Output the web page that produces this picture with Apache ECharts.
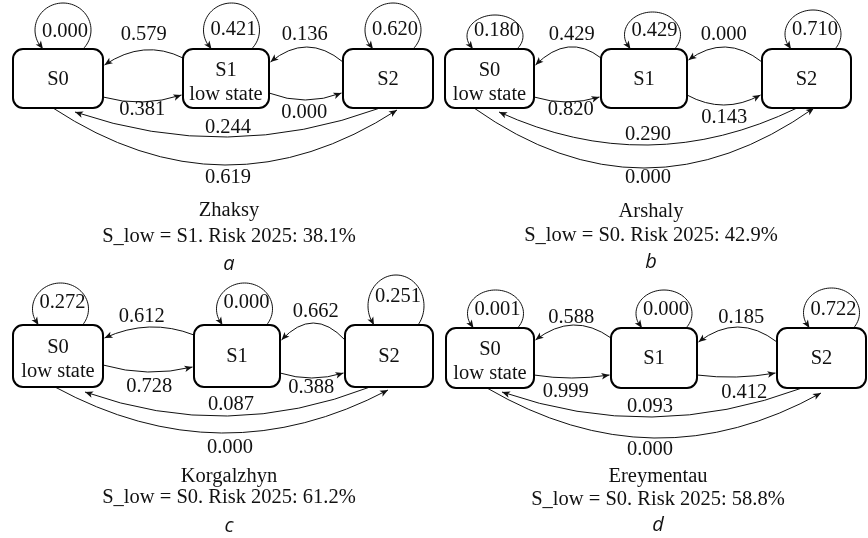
<!DOCTYPE html>
<html>
<head>
<meta charset="utf-8">
<script src="https://cdn.jsdelivr.net/npm/echarts@6/dist/echarts.min.js"></script>
<style>
  html, body { margin: 0; padding: 0; background: #fff; }
  #chart { width: 868px; height: 538px; }
</style>
</head>
<body>
<div id="chart"></div>
<script>
// Districts, their low-water state and the 2025 risk figure
const regions = ['Zhaksy', 'Arshaly', 'Korgalzhyn', 'Ereymentau'];
const panelTags = ['a', 'b', 'c', 'd'];
const states = ['S0', 'S1', 'S2'];
const lowState = ['S1', 'S0', 'S0', 'S0'];
const risk2025 = [38.1, 42.9, 61.2, 58.8];

// Transition matrices: row = from-state, column = to-state
const zhaksyP     = [[0.000, 0.381, 0.619], [0.579, 0.421, 0.000], [0.244, 0.136, 0.620]];
const arshalyP    = [[0.180, 0.820, 0.000], [0.429, 0.429, 0.143], [0.290, 0.000, 0.710]];
const korgalzhynP = [[0.272, 0.728, 0.000], [0.612, 0.000, 0.388], [0.087, 0.662, 0.251]];
const ereymentauP = [[0.001, 0.999, 0.000], [0.588, 0.000, 0.412], [0.093, 0.185, 0.722]];
const matrices = [zhaksyP, arshalyP, korgalzhynP, ereymentauP];

// Diagram layout for each panel (canvas units of the hidden axes).
// loops: [x shift from box centre, height above box, foot half-span, label rise]
// up*/dn*: [start dy, end dy, sag, label dx, label dy]
// long*: [start dx, end dx, end dy, sag, label dx, label dy]
const layouts = [
  { boxes: [[13, 103], [183, 269], [343, 433]], top: 49, bottom: 108,
    loops: [[5, 46, 20, 17], [5.5, 46, 20, 19], [5, 46, 20, 19]],
    up10: [9, 16, -11.5, 0, -15], up21: [13, 13, -15, -2, -12],
    dn01: [-11, -13, 6, 0, 8], dn12: [-15, -15, 7, -1, 13],
    long20: [37, 62, 4, 27, 0.5, -9], long02: [40, 54, 2, 56, 3, 13],
    title: [229, 211, 237, 264] },
  { boxes: [[445, 534], [601, 687], [762, 851]], top: 49, bottom: 108,
    loops: [[5.5, 34, 22, 18], [8.5, 37, 22, 18], [6.5, 39, 22, 19]],
    up10: [9, 16, -14.5, 3.5, -12], up21: [13, 11, -14, -1.5, -12],
    dn01: [-11, -11, 5, 4, 8], dn12: [-13, -13, 10, 0.5, 13],
    long20: [35, 54, 4, 35, 0, -10], long02: [29, 52, 0, 60, 4, 10],
    title: [651, 212, 236, 262] },
  { boxes: [[13, 103], [194, 280], [345, 433]], top: 325, bottom: 387,
    loops: [[2.5, 42, 22, 22], [7.5, 42, 22, 22], [7, 50, 22, 28]],
    up10: [10, 13, -9.5, -7.5, -10], up21: [15, 15, -17, 2.5, -11],
    dn01: [-22, -20, 6, 1.5, 15], dn12: [-14, -14, 5, -0.5, 10],
    long20: [25, 72, 5, 26.5, 3.5, -11], long02: [42, 43, 3, 44.5, 8.5, 15],
    title: [229, 477, 498, 526] },
  { boxes: [[446, 534], [611, 697], [777, 866]], top: 328, bottom: 388,
    loops: [[5.5, 38, 22, 18], [10, 38, 22, 18], [10, 40, 22, 18]],
    up10: [10, 12, -14, -2, -7], up21: [14, 14, -15, 3.5, -9],
    dn01: [-13, -13, 3, -6, 14], dn12: [-13, -15, 3, 8, 16],
    long20: [25, 56, 4, 27, -2, -10], long02: [41, 44, 5, 47.5, -4, 12],
    title: [658, 477, 500, 525] }
];

const INK = '#111';
const SERIF = '20.5px "Liberation Serif", "Times New Roman", serif';
const LETTER = 'italic 20px "Open Sans", "Noto Sans", sans-serif';
const fmt = v => v.toFixed(3);

function textEl(p, text, font) {
  return {
    type: 'text', x: p[0], y: p[1],
    style: {
      text: text, fill: INK, font: font || SERIF,
      align: 'center', verticalAlign: 'middle',
      textAlign: 'center', textVerticalAlign: 'middle'
    }
  };
}

function arrowEl(tip, from) {
  const len = 8, hw = 3.3;
  const dx = tip[0] - from[0], dy = tip[1] - from[1];
  const d = Math.hypot(dx, dy) || 1;
  const ux = dx / d, uy = dy / d, nx = -uy, ny = ux;
  const bx = tip[0] - ux * len, by = tip[1] - uy * len;
  return {
    type: 'polygon',
    shape: { points: [
      [tip[0], tip[1]],
      [bx + nx * hw, by + ny * hw],
      [tip[0] - ux * (len - 2), tip[1] - uy * (len - 2)],
      [bx - nx * hw, by - ny * hw]
    ] },
    style: { fill: INK, stroke: null }
  };
}

function renderItem(params, api) {
  const k = params.dataIndex;
  const L = layouts[k];
  const P = matrices[k];
  const px = (x, y) => api.coord([x, y]);
  const top = L.top, bottom = L.bottom, mid = (top + bottom) / 2;
  const B = L.boxes.map(([x0, x1]) => ({ x0, x1, cx: (x0 + x1) / 2 }));

  const lines = [], arrows = [], labels = [], boxes = [];

  // quadratic edge with arrow at its end and a value label near its middle
  function edge(p0, p2, sag, lab, value) {
    const mx = (p0[0] + p2[0]) / 2, my = (p0[1] + p2[1]) / 2;
    const a = px(p0[0], p0[1]);
    const c = px(mx, my + 2 * sag);
    const b = px(p2[0], p2[1]);
    lines.push({
      type: 'bezierCurve',
      shape: { x1: a[0], y1: a[1], cpx1: c[0], cpy1: c[1], x2: b[0], y2: b[1] },
      style: { stroke: INK, lineWidth: 1, fill: 'none' }
    });
    arrows.push(arrowEl(b, c));
    labels.push(textEl(px(mx + lab[0], my + sag + lab[1]), fmt(value)));
  }

  // self-transition drawn as an elliptical loop above the box
  function loop(i, spec, value) {
    const [dx, h, w, rise] = spec;
    const rx = 28;
    const lcx = B[i].cx + dx;
    const s = Math.sqrt(1 - (w / rx) * (w / rx));
    const ry = h / (1 + s);
    const lcy = top - h + ry;
    const th0 = Math.atan2(s, w / rx);
    const th1 = -Math.PI - th0;
    const pts = [];
    const N = 60;
    for (let n = 0; n <= N; n++) {
      const th = th0 + (th1 - th0) * n / N;
      pts.push(px(lcx + rx * Math.cos(th), lcy + ry * Math.sin(th)));
    }
    lines.push({ type: 'polyline', shape: { points: pts },
      style: { stroke: INK, lineWidth: 1, fill: 'none' } });
    arrows.push(arrowEl(pts[N], pts[N - 4]));
    labels.push(textEl(px(lcx + 2, top - rise), fmt(value)));
  }

  // boxes with state names
  B.forEach((b, i) => {
    const tl = px(b.x0, top), br = px(b.x1, bottom);
    boxes.push({
      type: 'rect',
      shape: { x: tl[0], y: tl[1], width: br[0] - tl[0], height: br[1] - tl[1], r: 10 },
      style: { fill: '#fff', stroke: '#000', lineWidth: 2 }
    });
    if (states[i] === lowState[k]) {
      labels.push(textEl(px(b.cx, mid - 8), states[i]));
      labels.push(textEl(px(b.cx, mid + 16), 'low state'));
    } else {
      labels.push(textEl(px(b.cx, mid + 1), states[i]));
    }
  });

  // self loops
  L.loops.forEach((spec, i) => loop(i, spec, P[i][i]));

  // neighbour transitions
  let e = L.up10;
  edge([B[1].x0, top + e[0]], [B[0].x1 + 1.5, top + e[1]], e[2], [e[3], e[4]], P[1][0]);
  e = L.up21;
  edge([B[2].x0, top + e[0]], [B[1].x1 + 1.5, top + e[1]], e[2], [e[3], e[4]], P[2][1]);
  e = L.dn01;
  edge([B[0].x1, bottom + e[0]], [B[1].x0 - 1.5, bottom + e[1]], e[2], [e[3], e[4]], P[0][1]);
  e = L.dn12;
  edge([B[1].x1, bottom + e[0]], [B[2].x0 - 1.5, bottom + e[1]], e[2], [e[3], e[4]], P[1][2]);

  // long transitions between S0 and S2 under the row
  e = L.long20;
  edge([B[2].x0 + e[0], bottom], [B[0].x0 + e[1], bottom + e[2]], e[3], [e[4], e[5]], P[2][0]);
  e = L.long02;
  edge([B[0].x0 + e[0], bottom], [B[2].x0 + e[1], bottom + e[2]], e[3], [e[4], e[5]], P[0][2]);

  // captions
  const t = L.title;
  labels.push(textEl(px(t[0], t[1]), regions[k]));
  labels.push(textEl(px(t[0], t[2]),
    'S_low = ' + lowState[k] + '. Risk 2025: ' + risk2025[k].toFixed(1) + '%'));
  labels.push(textEl(px(t[0], t[3]), panelTags[k], LETTER));

  return { type: 'group', children: lines.concat(boxes, arrows, labels) };
}

const chart = echarts.init(document.getElementById('chart'), null, { renderer: 'canvas' });
chart.setOption({
  animation: false,
  backgroundColor: '#fff',
  grid: { left: 0, right: 0, top: 0, bottom: 0 },
  xAxis: { type: 'value', min: 0, max: 868, show: false },
  yAxis: { type: 'value', min: 0, max: 538, inverse: true, show: false },
  series: [{
    type: 'custom',
    coordinateSystem: 'cartesian2d',
    silent: true,
    renderItem: renderItem,
    data: regions.map((name, i) => [i, 0])
  }]
});
</script>
</body>
</html>
